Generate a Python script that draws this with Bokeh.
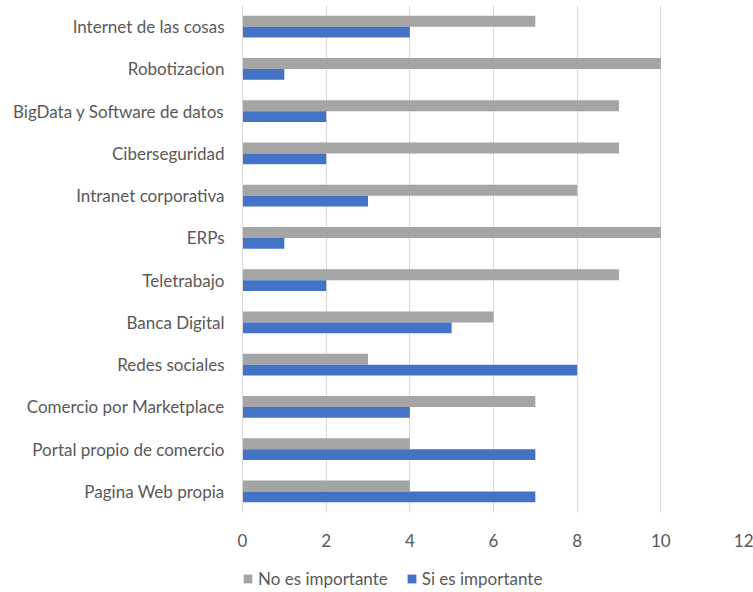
from bokeh.plotting import figure
from bokeh.models import FixedTicker, Legend, LegendItem, Range1d, ColumnDataSource
from bokeh.layouts import column
from bokeh.embed import file_html
from bokeh.resources import INLINE
from bokeh.transform import dodge

# Data (top to bottom as in the chart)
categories = ["Internet de las cosas", "Robotizacion", "BigData y Software de datos",
              "Ciberseguridad", "Intranet corporativa", "ERPs", "Teletrabajo",
              "Banca Digital", "Redes sociales", "Comercio por Marketplace",
              "Portal propio de comercio", "Pagina Web propia"]
no_importante = [7, 10, 9, 9, 8, 10, 9, 6, 3, 7, 4, 4]
si_importante = [4, 1, 2, 2, 3, 1, 2, 5, 8, 4, 7, 7]
series_names = ["No es importante", "Si es importante"]
series_colors = ["#A5A5A5", "#4472C4"]
x_ticks = [0, 2, 4, 6, 8, 10, 12]

n = len(categories)
ypos = [n - 1 - i for i in range(n)]

FONT = "Lato"
TXT = "#595959"

p = figure(width=753, height=552, output_backend="svg", toolbar_location=None,
           x_range=Range1d(0, 12), y_range=Range1d(-0.5, 11.5),
           min_border_left=242, min_border_right=9, min_border_top=5,
           min_border_bottom=40)
p.outline_line_color = None

src = ColumnDataSource(dict(y=ypos, no=no_importante, si=si_importante))
p.hbar(y=dodge("y", 0.13), right="no", left=0, height=0.26, source=src,
       fill_color=series_colors[0], line_color=None)
p.hbar(y=dodge("y", -0.13), right="si", left=0, height=0.26, source=src,
       fill_color=series_colors[1], line_color=None)

# axes
p.xaxis.ticker = FixedTicker(ticks=x_ticks)
p.xaxis.axis_line_color = None
p.xaxis.major_tick_line_color = None
p.xaxis.minor_tick_line_color = None
p.xaxis.major_label_standoff = 15
p.xaxis.major_label_text_font = FONT
p.xaxis.major_label_text_font_size = "17px"
p.xaxis.major_label_text_color = TXT

p.yaxis.ticker = FixedTicker(ticks=ypos)
p.yaxis.major_label_overrides = {y: c for y, c in zip(ypos, categories)}
p.yaxis.axis_line_color = "#D9D9D9"
p.yaxis.major_tick_line_color = None
p.yaxis.minor_tick_line_color = None
p.yaxis.major_label_standoff = 12
p.yaxis.major_label_text_font = FONT
p.yaxis.major_label_text_font_size = "17px"
p.yaxis.major_label_text_color = TXT

p.xgrid.grid_line_color = "#D9D9D9"
p.ygrid.grid_line_color = None

# legend in a separate strip below the chart (proxy bars lie outside its view)
p2 = figure(width=753, height=40, output_backend="svg", toolbar_location=None,
            x_range=Range1d(0, 12), y_range=Range1d(100, 101),
            min_border_left=0, min_border_right=0, min_border_top=0,
            min_border_bottom=0)
p2.axis.visible = False
p2.grid.grid_line_color = None
p2.outline_line_color = None
items = []
for name, col, key in zip(series_names, series_colors, ["no", "si"]):
    r = p2.hbar(y="y", right=key, left=0, height=0.26, source=src,
                fill_color=col, line_color=None)
    items.append(LegendItem(label=name, renderers=[r]))
legend = Legend(items=items, orientation="horizontal", location=(0, 3),
                glyph_width=11, glyph_height=11, spacing=18,
                label_text_font=FONT, label_text_font_size="17px",
                label_text_color=TXT, border_line_color=None,
                background_fill_alpha=0, padding=0, margin=0, label_standoff=5)
p2.add_layout(legend, "center")

open("out.html", "w").write(file_html(column(p, p2, spacing=0), INLINE))
